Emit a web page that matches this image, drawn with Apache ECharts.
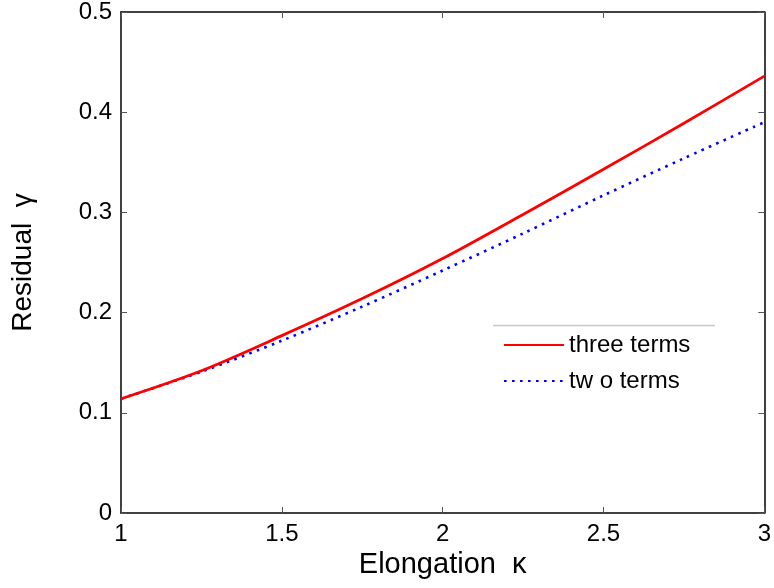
<!DOCTYPE html>
<html>
<head>
<meta charset="utf-8">
<script src="https://cdn.jsdelivr.net/npm/echarts@6/dist/echarts.min.js"></script>
<style>
html,body{margin:0;padding:0;background:#fff;}
#chart{width:774px;height:588px;}
</style>
</head>
<body>
<div id="chart"></div>
<script>
var elongation = [1, 1.25, 1.5, 1.75, 2, 2.25, 2.5, 2.75, 3];
var threeTerms = [0.114, 0.142, 0.177, 0.214, 0.254, 0.298, 0.343, 0.389, 0.436];
var twoTerms   = [0.114, 0.141, 0.172, 0.206, 0.242, 0.279, 0.317, 0.354, 0.390];
var seriesNames = ['three terms', 'tw o terms'];
var xTitle = 'Elongation  κ';
var yTitle = 'Residual  γ';

function pairs(xs, ys) { return xs.map(function (x, i) { return [x, ys[i]]; }); }

var font = 'Liberation Sans, Arial, Helvetica, sans-serif';
var chart = echarts.init(document.getElementById('chart'));
var tickStyle = { show: true, inside: true, length: 6, lineStyle: { color: '#555', width: 1 } };
var lineStyleAxis = { show: true, onZero: false, lineStyle: { color: '#000', width: 1.5 } };

chart.setOption({
  backgroundColor: '#fff',
  animation: false,
  grid: { left: 121, right: 9, top: 10, bottom: 75, containLabel: false },
  legend: {
    orient: 'vertical',
    left: 498,
    top: 328,
    itemWidth: 60,
    itemHeight: 14,
    itemGap: 12,
    itemStyle: { opacity: 0 },
    textStyle: { fontFamily: font, fontSize: 24, color: '#000', lineHeight: 24 },
    data: seriesNames
  },
  graphic: [{
    type: 'line',
    shape: { x1: 493, y1: 325.5, x2: 715, y2: 325.5 },
    style: { stroke: '#c8c8c8', lineWidth: 1.5 }
  }],
  xAxis: [{
    type: 'value', min: 1, max: 3, interval: 0.5,
    position: 'bottom',
    name: xTitle, nameLocation: 'middle', nameGap: 35,
    nameTextStyle: { fontFamily: font, fontSize: 29, color: '#000' },
    axisLine: lineStyleAxis, axisTick: tickStyle,
    axisLabel: { fontFamily: font, fontSize: 24, color: '#000', margin: 9 },
    splitLine: { show: false }
  }, {
    type: 'value', min: 1, max: 3, interval: 0.5,
    position: 'top',
    axisLine: lineStyleAxis, axisTick: tickStyle,
    axisLabel: { show: false }, splitLine: { show: false }
  }],
  yAxis: [{
    type: 'value', min: 0, max: 0.5, interval: 0.1,
    position: 'left',
    name: yTitle, nameLocation: 'middle', nameGap: 84, nameRotate: 90,
    nameTextStyle: { fontFamily: font, fontSize: 28, color: '#000' },
    axisLine: lineStyleAxis, axisTick: tickStyle,
    axisLabel: { fontFamily: font, fontSize: 24, color: '#000', margin: 9 },
    splitLine: { show: false }
  }, {
    type: 'value', min: 0, max: 0.5, interval: 0.1,
    position: 'right',
    axisLine: lineStyleAxis, axisTick: tickStyle,
    axisLabel: { show: false }, splitLine: { show: false }
  }],
  series: [{
    name: seriesNames[0], type: 'line', symbol: 'none', smooth: 0.3,
    data: pairs(elongation, threeTerms),
    lineStyle: { color: '#ff0000', width: 2.8 },
    itemStyle: { color: '#ff0000' },
    z: 3
  }, {
    name: seriesNames[1], type: 'line', symbol: 'none', smooth: 0.3,
    data: pairs(elongation, twoTerms),
    lineStyle: { color: '#0000ff', width: 2.6, type: [2.6, 5.4] },
    itemStyle: { color: '#0000ff' },
    z: 2
  }]
});
</script>
</body>
</html>
